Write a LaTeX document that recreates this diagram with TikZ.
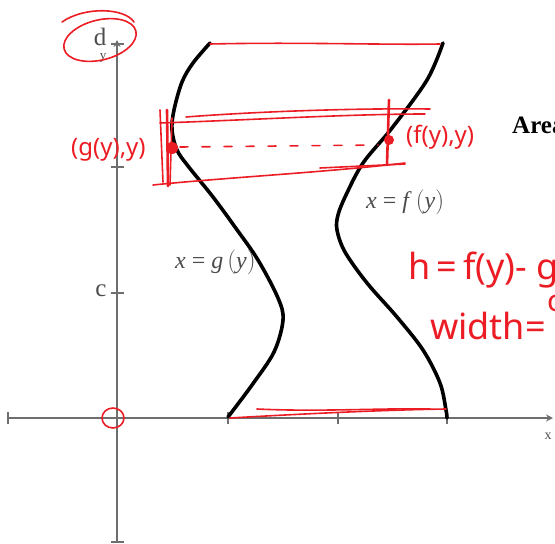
\documentclass[tikz,border=0pt]{standalone}
\usepackage{fontspec}
\setmainfont{Liberation Serif}
\newfontfamily\handfont{Noto Sans}
\usetikzlibrary{arrows.meta}
\definecolor{ink}{RGB}{235,28,36}
\definecolor{axisgray}{RGB}{110,110,110}
\tikzset{
  axisline/.style={draw=axisgray, line width=1.6pt},
  curveline/.style={draw=black, line width=3.6pt, line cap=round},
  pen/.style={draw=ink, line width=1.6pt, line cap=round, line join=round},
  handtext/.style={text=ink, font=\handfont\fontsize{24}{26}\selectfont, inner sep=0pt},
  serlabel/.style={text=black!70, inner sep=0pt},
}
\begin{document}
\begin{tikzpicture}[x=1pt,y=-1pt]
\useasboundingbox (0,0) rectangle (555,544);
\clip (0,0) rectangle (555,544);
% axes
\draw[axisline,-{Stealth[length=7pt,width=7pt]}] (117,542) -- (117,40);
\draw[axisline,-{Stealth[length=7pt,width=7pt]}] (8,418) -- (553,418);
\foreach \yy in {44,167,293,542} \draw[axisline,line width=1.2pt] (111,\yy) -- (124,\yy);
\foreach \xx in {8,228,338,447} \draw[axisline,line width=1.2pt] (\xx,412) -- (\xx,424);
\node[serlabel,font=\fontsize{25}{27}\selectfont] (dlab) at (100,37) {d};
\node[serlabel,font=\fontsize{13}{14}\selectfont] (ylab) at (103,58) {y};
\node[serlabel,font=\fontsize{25}{27}\selectfont] (clab) at (101,291) {c};
\node[serlabel,font=\fontsize{14}{15}\selectfont] (xlab) at (548,436) {x};
% curves
\draw[curveline] plot[smooth,tension=0.55] coordinates {(210,43) (193,63) (182,82) (174,110) (172,130) (177,150) (188,166) (213,197) (235,227) (258,260) (278,298) (283,320) (274,352) (252,385) (228,417)};
\draw[curveline] plot[smooth,tension=0.55] coordinates {(443,43) (427,80) (392,128) (363,163) (346,195) (338,215) (337,230) (345,252) (367,283) (397,317) (423,350) (440,383) (446,410) (447,418)};
% labels
\node[serlabel,font=\fontsize{24}{26}\selectfont,anchor=west] (flab) at (366,202) {\textit{x} = \textit{f}\,\big(\textit{y}\big)};
\node[serlabel,font=\fontsize{24}{26}\selectfont,anchor=west] (glab) at (175,262) {\textit{x} = \textit{g}\,\big(\textit{y}\big)};
\node[inner sep=0pt,anchor=west,font=\bfseries\fontsize{25}{28}\selectfont] (area) at (512,125) {Area};
% red annotations
\draw[pen,rotate around={14:(100,40)}] (100,40) ellipse[x radius=37, y radius=20];
\draw[pen] (62,22) .. controls (85,6) and (125,8) .. (134,22);
\draw[pen] (113,418) circle[x radius=11, y radius=10];
\draw[pen] (210,44) .. controls (300,42) and (380,45) .. (440,44);
\draw[pen] (186,117) .. controls (250,112) and (350,108) .. (430,109);
\draw[pen] (160,123) .. controls (250,120) and (350,114) .. (425,114);
\draw[pen] (153,185) .. controls (220,178) and (330,172) .. (405,163);
\draw[pen] (320,168) -- (405,164);
\draw[pen,dashed,dash pattern=on 8pt off 14pt] (180,147) -- (378,145);
\draw[pen,line width=2.6pt] (167,110) -- (168,186);
\draw[pen] (160,110) -- (163,182);
\draw[pen] (172,118) -- (170,185);
\draw[pen,line width=2.6pt] (389,100) -- (387,165);
\fill[ink] (172,148) circle[radius=6];
\fill[ink] (389,140) circle[radius=5];
\draw[pen] (230,418) .. controls (300,414) and (380,410) .. (446,409);
\draw[pen] (257,409) .. controls (320,412) and (380,408) .. (430,409);
\node[handtext,anchor=west] (gpt) at (71,150) {(g(y),y)};
\node[handtext,anchor=west] (fpt) at (406,137) {(f(y),y)};
\node[handtext,anchor=west,font=\handfont\fontsize{36}{38}\selectfont] (hlab) at (408,270) {h\,=\,f(y)-\;g};
\node[handtext,anchor=west,font=\handfont\fontsize{30}{32}\selectfont] (csub) at (547,303) {c};
\node[handtext,anchor=west,font=\handfont\fontsize{36}{38}\selectfont] (wlab) at (430,326) {width=};
\end{tikzpicture}
\end{document}
